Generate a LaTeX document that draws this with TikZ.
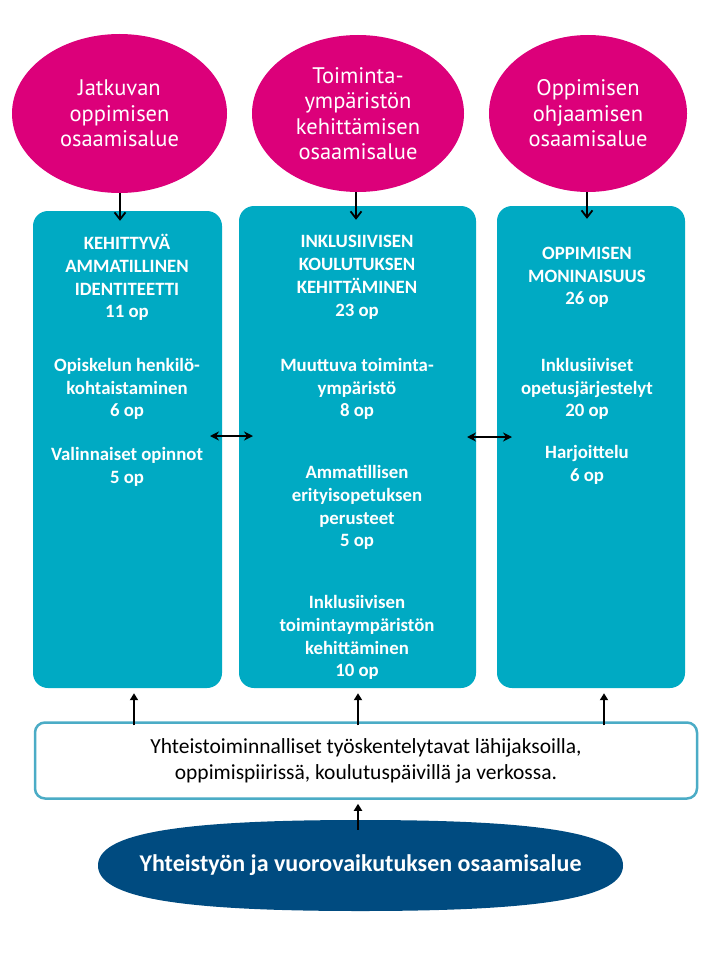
\documentclass[tikz,border=0pt]{standalone}
\usepackage{fontspec}
\setmainfont{Carlito}
\newfontfamily\circlefont{PT Sans}
\usetikzlibrary{arrows.meta, shapes.geometric}

\definecolor{magentaC}{RGB}{220,0,122}
\definecolor{tealC}{RGB}{0,170,195}
\definecolor{tealLine}{RGB}{75,172,198}
\definecolor{navyC}{RGB}{0,75,128}

\begin{document}
\begin{tikzpicture}[x=1pt, y=1pt,
    area/.style={ellipse, fill=magentaC, text=white, inner sep=0pt, align=center,
        font=\circlefont\fontsize{22.5}{25.5}\selectfont},
    module/.style={rectangle, rounded corners=15pt, fill=tealC, inner sep=0pt},
    modtext/.style={text=white, align=center, font=\bfseries\fontsize{18.8}{22.8}\selectfont},
    down/.style={-{Straight Barb[length=7pt,width=11pt]}, line width=1.8pt},
    up/.style={-{Triangle[length=7pt,width=8pt]}, line width=2.5pt},
    both/.style={{Stealth[length=9pt,width=9pt]}-{Stealth[length=9pt,width=9pt]}, line width=2.5pt}]

    % --- Canvas ---
    \useasboundingbox (0,0) rectangle (720,-960);

    % --- Competence areas (top) ---
    \node[area, minimum width=215pt, minimum height=159pt] (c1) at (119.5,-113.5)
        {Jatkuvan\\oppimisen\\osaamisalue};
    \node[area, minimum width=212pt, minimum height=157pt] (c2) at (358,-113.5)
        {Toiminta-\\ympäristön\\kehittämisen\\osaamisalue};
    \node[area, minimum width=198pt, minimum height=157pt] (c3) at (588,-113.5)
        {Oppimisen\\ohjaamisen\\osaamisalue};

    % --- Study modules ---
    \node[module, minimum width=189pt, minimum height=477pt] (b1) at (127.5,-449.5) {};
    \node[module, minimum width=237pt, minimum height=482pt] (b2) at (357.5,-447) {};
    \node[module, minimum width=188pt, minimum height=482pt] (b3) at (591,-447) {};

    % Module texts, left
    \node[modtext] (t11) at (127,-277.5) {KEHITTYVÄ\\AMMATILLINEN\\IDENTITEETTI\\11 op};
    \node[modtext] (t12) at (127,-389) {Opiskelun henkilö-\\kohtaistaminen\\6 op};
    \node[modtext] (t13) at (127,-466.5) {Valinnaiset opinnot\\5 op};

    % Module texts, middle
    \node[modtext] (t21) at (357,-277.5) {INKLUSIIVISEN\\KOULUTUKSEN\\KEHITTÄMINEN\\23 op};
    \node[modtext] (t22) at (357,-389) {Muuttuva toiminta-\\ympäristö\\8 op};
    \node[modtext] (t23) at (357,-507.5) {Ammatillisen\\erityisopetuksen\\perusteet\\5 op};
    \node[modtext] (t24) at (357,-637.5) {Inklusiivisen\\toimintaympäristön\\kehittäminen\\10 op};

    % Module texts, right
    \node[modtext] (t31) at (587,-277.5) {OPPIMISEN\\MONINAISUUS\\26 op};
    \node[modtext] (t32) at (587,-389) {Inklusiiviset\\opetusjärjestelyt\\20 op};
    \node[modtext] (t33) at (587,-465) {Harjoittelu\\6 op};

    % --- Working methods box ---
    \node[rectangle, rounded corners=10pt, draw=tealLine, line width=2.5pt, fill=white,
        minimum width=662pt, minimum height=76pt, align=center,
        font=\fontsize{21.5}{26}\selectfont] (w) at (366,-760.5)
        {Yhteistoiminnalliset työskentelytavat lähijaksoilla,\\oppimispiirissä, koulutuspäivillä ja verkossa.};

    % --- Collaboration area (bottom) ---
    % full oval, flatter than a plain ellipse
    \fill[navyC] (98,-865.5) .. controls (98,-833.6) and (176.75,-820) .. (360.5,-820)
        .. controls (544.25,-820) and (623,-833.6) .. (623,-865.5)
        .. controls (623,-897.4) and (544.25,-911) .. (360.5,-911)
        .. controls (176.75,-911) and (98,-897.4) .. cycle;
    \node[inner sep=0pt, minimum width=525pt, minimum height=91pt, text=white,
        font=\bfseries\fontsize{24}{28}\selectfont] (c4) at (360.5,-865.5)
        {Yhteistyön ja vuorovaikutuksen osaamisalue};

    % --- Arrows ---
    % Down from areas to modules (tips reach into the boxes)
    \draw[down] (c1.south -| 120,0) -- ([yshift=-10pt]b1.north -| 120,0);
    \draw[down] (c2.south -| 356,0) -- ([yshift=-14pt]b2.north -| 356,0);
    \draw[down] (c3.south -| 587,0) -- ([yshift=-13pt]b3.north -| 587,0);

    % Between modules
    \coordinate (h1a) at (210,-436);
    \coordinate (h1b) at (253,-436);
    \coordinate (h2a) at (467,-437);
    \coordinate (h2b) at (512,-437);
    \draw[both] (h1a) -- (h1b);
    \draw[both] (h2a) -- (h2b);

    % Up from working methods to modules
    \draw[up] ([yshift=-4pt]w.north -| 134,0) -- ([yshift=-5pt]b1.south -| 134,0);
    \draw[up] ([yshift=-4pt]w.north -| 358,0) -- ([yshift=-5pt]b2.south -| 358,0);
    \draw[up] ([yshift=-4pt]w.north -| 604,0) -- ([yshift=-5pt]b3.south -| 604,0);

    % Up from collaboration area
    \draw[up] ([yshift=-10pt]c4.north -| 358,0) -- ([yshift=-4pt]w.south -| 358,0);

\end{tikzpicture}
\end{document}
